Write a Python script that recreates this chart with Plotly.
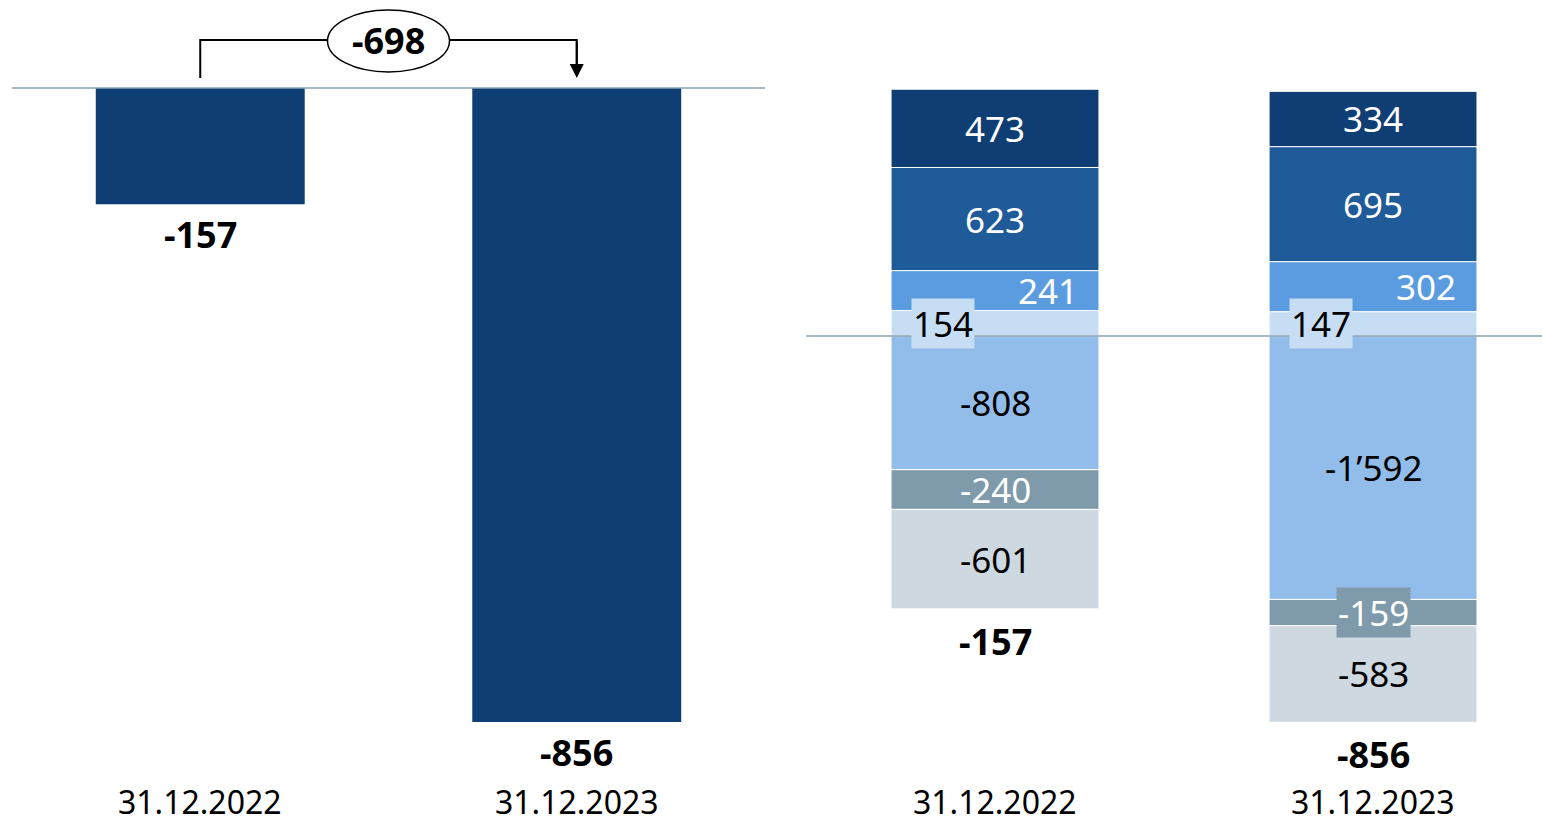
import plotly.graph_objects as go

# ---- data ----
dates = ["31.12.2022", "31.12.2023"]
totals = [-157, -856]
change_label = -698

components = ["c1", "c2", "c3", "c4", "c5", "c6", "c7"]
comp_values = {
    "c1": [154, 147],
    "c2": [241, 302],
    "c3": [623, 695],
    "c4": [473, 334],
    "c5": [-808, -1592],
    "c6": [-240, -159],
    "c7": [-601, -583],
}

# ---- styles ----
FONT = "Noto Sans"
NAVY = "#0e3e74"
comp_colors = {
    "c1": "#c7ddf3",
    "c2": "#5b9ce0",
    "c3": "#1f5a99",
    "c4": "#0e3e74",
    "c5": "#92bce9",
    "c6": "#7e9aab",
    "c7": "#cdd8e0",
}
comp_font_colors = {
    "c1": "black", "c2": "white", "c3": "white", "c4": "white",
    "c5": "black", "c6": "white", "c7": "black",
}
comp_xshift = {"c1": -52, "c2": 53}
# thin segments whose label gets its own backing box
boxed = {("c1", 0), ("c1", 1), ("c6", 1)}
BASE_LINE = "#8aa3b0"
SEG_SIZE = 35
TOTAL_SIZE = 36
DATE_SIZE = 32


def fmt(v):
    s = f"{abs(v):,}".replace(",", "\u2019")
    return ("-" if v < 0 else "") + s


fig = go.Figure()

# left panel: net totals
fig.add_trace(go.Bar(
    x=[0, 1], y=totals, width=0.555, marker_color=NAVY,
    marker_line_width=0, xaxis="x", yaxis="y", showlegend=False,
    hoverinfo="skip",
))

# right panel: stacked components
for c in components:
    fig.add_trace(go.Bar(
        x=[0, 1], y=comp_values[c], width=0.55,
        marker=dict(color=comp_colors[c], line=dict(color="white", width=1)),
        xaxis="x2", yaxis="y2", showlegend=False, hoverinfo="skip",
    ))

annotations = []
shapes = []

# segment labels at the middle of each stacked segment
for i in range(2):
    pos, neg = 0, 0
    for c in components:
        v = comp_values[c][i]
        if v >= 0:
            mid = pos + v / 2
            pos += v
        else:
            mid = neg + v / 2
            neg += v
        ann = dict(
            x=i, y=mid, xref="x2", yref="y2", text=fmt(v), showarrow=False,
            xshift=comp_xshift.get(c, 0),
            font=dict(family=FONT, size=SEG_SIZE, color=comp_font_colors[c]),
        )
        if (c, i) in boxed:
            ann.update(bgcolor=comp_colors[c], borderpad=1)
        annotations.append(ann)
    # net total under the stacked bar
    annotations.append(dict(
        x=i, y=neg, xref="x2", yref="y2", text=f"<b>{fmt(totals[i])}</b>",
        showarrow=False, yanchor="top", yshift=-6,
        font=dict(family=FONT, size=TOTAL_SIZE, color="black"),
    ))
    annotations.append(dict(
        x=i, y=0, xref="x2", yref="paper", text=dates[i], showarrow=False,
        yanchor="bottom", font=dict(family=FONT, size=DATE_SIZE, color="black"),
    ))

# left panel labels
for i in range(2):
    annotations.append(dict(
        x=i, y=totals[i], xref="x", yref="y", text=f"<b>{fmt(totals[i])}</b>",
        showarrow=False, yanchor="top", yshift=-4,
        font=dict(family=FONT, size=TOTAL_SIZE, color="black"),
    ))
    annotations.append(dict(
        x=i, y=0, xref="x", yref="paper", text=dates[i], showarrow=False,
        yanchor="bottom", font=dict(family=FONT, size=DATE_SIZE, color="black"),
    ))

# zero lines
shapes.append(dict(type="line", xref="x domain", yref="y", x0=0, x1=1, y0=0, y1=0,
                   line=dict(color=BASE_LINE, width=1.5), layer="above"))
shapes.append(dict(type="line", xref="x2 domain", yref="y2", x0=0, x1=1, y0=0, y1=0,
                   line=dict(color=BASE_LINE, width=1.5), layer="above"))

# change bracket between the two totals
y_low, y_top = 13.5, 64.8
shapes.append(dict(type="path", xref="x", yref="y",
                   path=f"M 0,{y_low} L 0,{y_top} L 1,{y_top} L 1,{y_low + 6}",
                   line=dict(color="black", width=2)))
annotations.append(dict(
    x=1, y=y_low, ax=1, ay=y_top, xref="x", yref="y", axref="x", ayref="y",
    text="", showarrow=True, arrowhead=2, arrowsize=1.4, arrowwidth=2,
    arrowcolor="black",
))
shapes.append(dict(type="circle", xref="x", yref="y",
                   x0=0.5 - 0.162, x1=0.5 + 0.162, y0=21.6, y1=105.3,
                   fillcolor="white", line=dict(color="black", width=1.5)))
annotations.append(dict(
    x=0.5, y=y_top, xref="x", yref="y", text=f"<b>{fmt(change_label)}</b>",
    showarrow=False, font=dict(family=FONT, size=TOTAL_SIZE, color="black"),
))

fig.update_layout(
    width=1542, height=825,
    margin=dict(l=0, r=0, t=0, b=0),
    paper_bgcolor="white", plot_bgcolor="white",
    barmode="relative",
    xaxis=dict(domain=[12 / 1542, 765 / 1542], range=[-0.5, 1.5], visible=False),
    yaxis=dict(domain=[0, 1], range=[-995, 118.8], visible=False),
    xaxis2=dict(domain=[806 / 1542, 1], range=[-0.5, 1.447], visible=False),
    yaxis2=dict(domain=[0, 1], range=[-2955, 2030], visible=False, anchor="x2"),
    annotations=annotations,
    shapes=shapes,
)

fig.write_html("out.html")
